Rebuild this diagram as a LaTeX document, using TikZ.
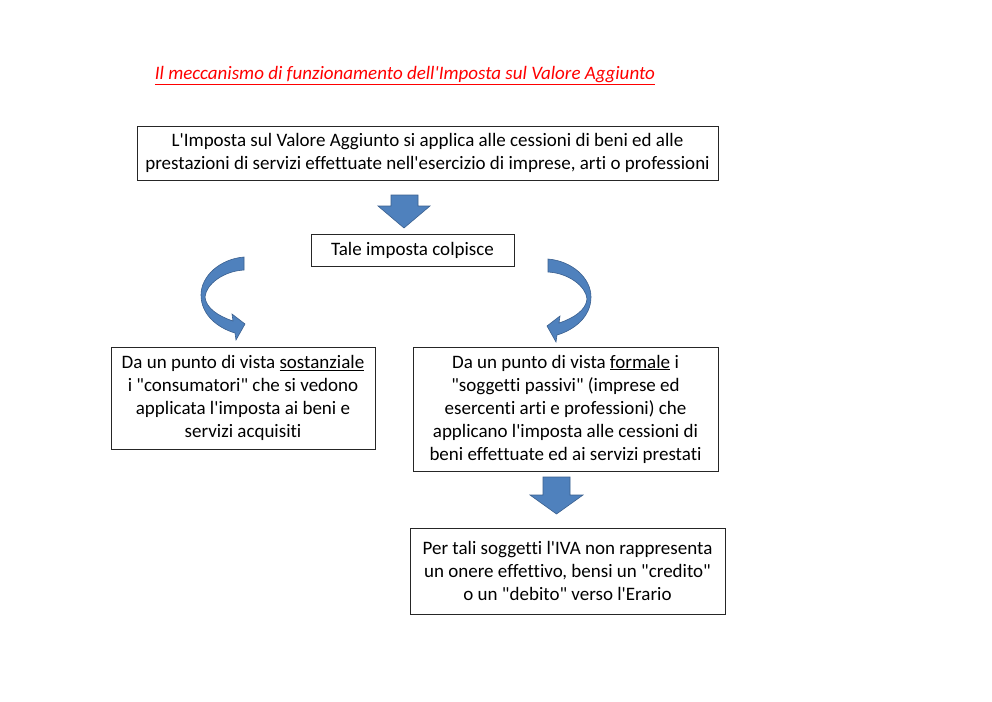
\documentclass[tikz,border=0pt]{standalone}
\usepackage{fontspec}
\setmainfont{Carlito}[Ligatures={TeXOff,CommonOff}]
\definecolor{arrowblue}{HTML}{4F81BD}
\definecolor{arrowedge}{HTML}{3A5F8E}
\definecolor{titlered}{HTML}{FF0000}
\newcommand\myul[1]{\underline{#1}}
\begin{document}
\begin{tikzpicture}[x=1pt,y=-1pt,
  box/.style={draw=black!85, line width=1pt, fill=white, align=center, inner sep=0pt,
    font=\fontsize{19}{23}\selectfont},
  blockarrow/.style={fill=arrowblue, draw=arrowedge, line width=0.6pt, line join=miter},
]
\useasboundingbox[fill=white] (0,0) rectangle (992,701);

\node[font=\fontsize{19}{22}\selectfont\itshape, text=titlered] (title) at (405,76)
  {\myul{Il meccanismo di funzionamento dell'Imposta sul Valore Aggiunto}};

\node[box, minimum width=581pt, minimum height=54pt] (top) at (427.5,153)
  {L'Imposta sul Valore Aggiunto si applica alle cessioni di beni ed alle\\
   prestazioni di servizi effettuate nell'esercizio di imprese, arti o professioni};

\node[box, minimum width=203pt, minimum height=32pt] (tale) at (412.5,250)
  {Tale imposta colpisce};

\node[box, minimum width=264pt, minimum height=102pt] (left) at (243,398)
  {Da un punto di vista \myul{sostanziale}\\
   i "consumatori" che si vedono\\
   applicata l'imposta ai beni e\\
   servizi acquisiti};

\node[box, minimum width=305pt, minimum height=124pt] (right) at (565.5,409)
  {Da un punto di vista \myul{formale} i\\
   "soggetti passivi" (imprese ed\\
   esercenti arti e professioni) che\\
   applicano l'imposta alle cessioni di\\
   beni effettuate ed ai servizi prestati};

\node[box, minimum width=315pt, minimum height=86pt] (bottom) at (567.5,571)
  {Per tali soggetti l'IVA non rappresenta\\
   un onere effettivo, bensi un "credito"\\
   o un "debito" verso l'Erario};

% straight block arrow top -> tale
\draw[blockarrow] (391,195) -- (418,195) -- (418,206) -- (430,206) -- (404,228)
  -- (378,206) -- (391,206) -- cycle;

% straight block arrow right -> bottom
\draw[blockarrow] (543,477) -- (570,477) -- (570,495) -- (583,495) -- (556.5,514)
  -- (530,495) -- (543,495) -- cycle;

% left curved arrow
\draw[blockarrow]
  (244,257) .. controls (220,259) and (201,276) .. (201,295)
  .. controls (201,315) and (218,328) .. (235,333)
  -- (236,340) -- (245,324) -- (232,314) -- (233,321)
  .. controls (218,316) and (206,308) .. (205,297)
  .. controls (206,284) and (224,271) .. (244,270) -- cycle;

% right curved arrow (mirror)
\begin{scope}[shift={(792,2)}, xscale=-1]
\draw[blockarrow]
  (244,257) .. controls (220,259) and (201,276) .. (201,295)
  .. controls (201,315) and (218,328) .. (235,333)
  -- (236,340) -- (245,324) -- (232,314) -- (233,321)
  .. controls (218,316) and (206,308) .. (205,297)
  .. controls (206,284) and (224,271) .. (244,270) -- cycle;
\end{scope}
\end{tikzpicture}
\end{document}
